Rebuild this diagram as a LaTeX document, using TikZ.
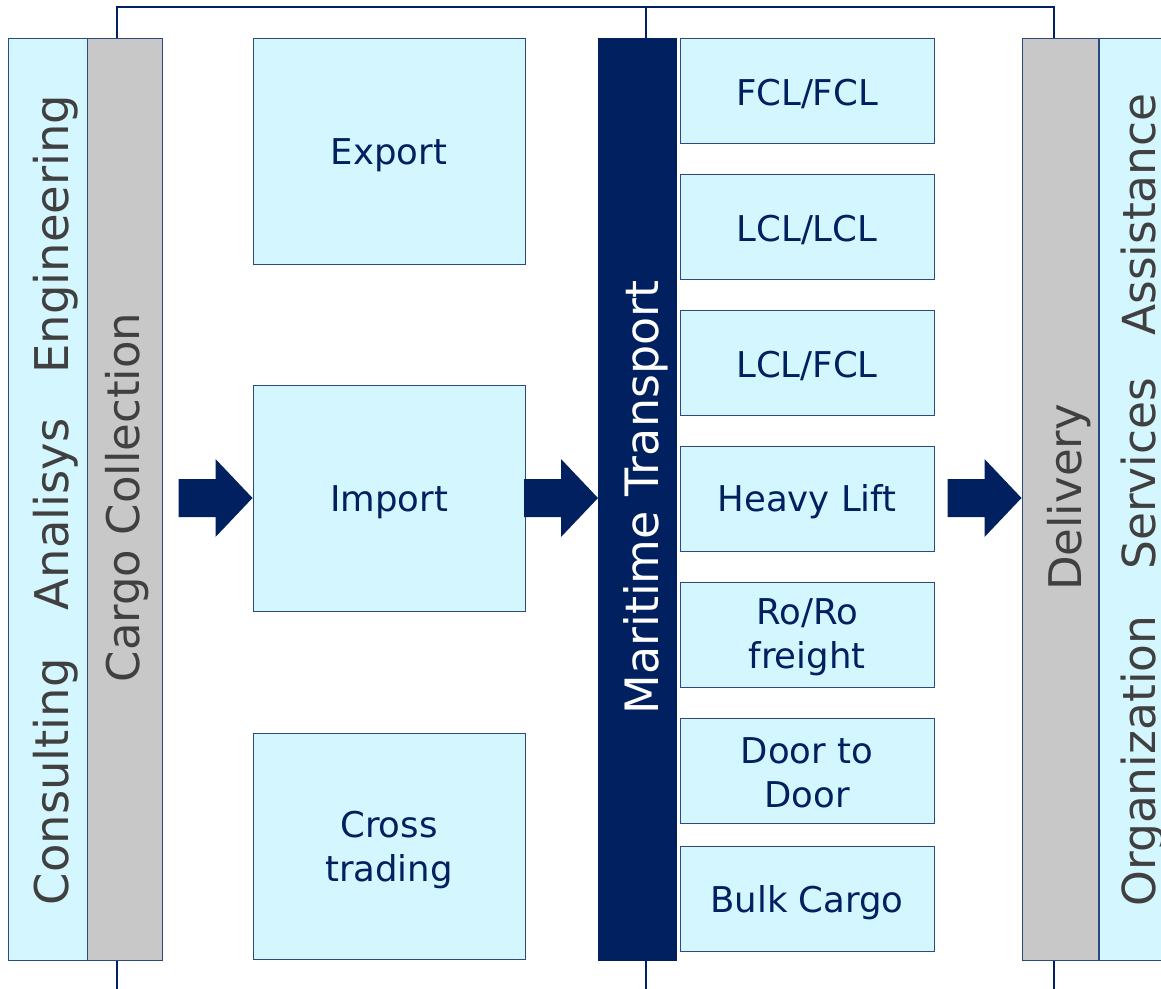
\documentclass[tikz,border=0pt]{standalone}
\usepackage{fontspec}
\setmainfont{DejaVu Sans}
\usetikzlibrary{calc}
\definecolor{navy}{HTML}{002060}
\definecolor{cyanfill}{HTML}{D4F6FE}
\definecolor{bargray}{HTML}{C8C8C8}
\definecolor{txtgray}{HTML}{404040}
\definecolor{edge}{HTML}{2A4A80}
\tikzset{
  x=1pt, y=-1pt,
  bluebox/.style={draw=edge, line width=1pt, fill=cyanfill, inner sep=0pt},
  btext/.style={inner sep=0pt, text=navy, align=center, font=\fontsize{35.5}{44}\selectfont},
  graybar/.style={draw=edge, line width=1pt, fill=bargray, inner sep=0pt},
  navybar/.style={draw=navy, line width=1pt, fill=navy, inner sep=0pt},
  vtext/.style={rotate=90, anchor=base, inner sep=0pt, font=\fontsize{46}{50}\selectfont, text=txtgray},
  conn/.style={draw=navy, line width=2.2pt},
  fatarrow/.pic={\fill[navy] (0,0) -- ++(-37,-39) -- ++(0,20) -- ++(-37,0) -- ++(0,38) -- ++(37,0) -- ++(0,20) -- cycle;}
}
\begin{document}
\begin{tikzpicture}
\useasboundingbox (0,0) rectangle (1161,988);
% connectors (drawn first)
\coordinate (cT) at (117,38);
\coordinate (mT) at (646,38);
\coordinate (dT) at (1054,38);
\coordinate (cB) at (117,960);
\coordinate (mB) at (646,960);
\coordinate (dB) at (1054,960);
\coordinate (top) at (0,7);
\coordinate (bot) at (0,995);
\draw[conn] (cT) -- (cT |- top) -- (dT |- top) -- (dT);
\draw[conn] (mT) -- (mT |- top);
\draw[conn] (cB) -- (cB |- bot);
\draw[conn] (mB) -- (mB |- bot);
\draw[conn] (dB) -- (dB |- bot);
% left columns
\node[bluebox, minimum width=79pt, minimum height=922pt] (cons) at (47.5,499) {};
\node[graybar, minimum width=75pt, minimum height=922pt] (cc) at (124.5,499) {};
\node[vtext, font=\fontsize{46.5}{50}\selectfont] (consT) at (68,500) {Consulting\hspace{48pt}Analisys\hspace{45pt}Engineering};
\node[vtext, font=\fontsize{45}{50}\selectfont] (ccT) at (139,497.5) {Cargo Collection};
% middle boxes
\node[bluebox, minimum width=272pt, minimum height=226pt] (exp) at (389,151) {};
\node[bluebox, minimum width=272pt, minimum height=226pt] (imp) at (389,498) {};
\node[bluebox, minimum width=272pt, minimum height=226pt] (cross) at (389,846) {};
\node[btext] (expT) at ([yshift=-4pt]exp.center) {Export};
\node[btext] (impT) at ([yshift=-4pt]imp.center) {Import};
\node[btext] (crossT) at ([yshift=-4pt]cross.center) {Cross\\trading};
% maritime bar
\node[navybar, minimum width=78pt, minimum height=922pt] (mt) at (637.5,499) {};
\node[vtext, text=white] (mtT) at (658,497.5) {Maritime Transport};
% right boxes
\node[bluebox, minimum width=254pt, minimum height=105pt] (b1) at (807,90.5) {};
\node[bluebox, minimum width=254pt, minimum height=105pt] (b2) at (807,226.5) {};
\node[bluebox, minimum width=254pt, minimum height=105pt] (b3) at (807,362.5) {};
\node[bluebox, minimum width=254pt, minimum height=105pt] (b4) at (807,498.5) {};
\node[bluebox, minimum width=254pt, minimum height=105pt] (b5) at (807,634.5) {};
\node[bluebox, minimum width=254pt, minimum height=105pt] (b6) at (807,770.5) {};
\node[bluebox, minimum width=254pt, minimum height=105pt] (b7) at (807,899) {};
\node[btext] (b1T) at ([yshift=-3pt]b1.center) {FCL/FCL};
\node[btext] (b2T) at ([yshift=-3pt]b2.center) {LCL/LCL};
\node[btext] (b3T) at ([yshift=-3pt]b3.center) {LCL/FCL};
\node[btext] (b4T) at ([yshift=-3pt]b4.center) {Heavy Lift};
\node[btext] (b5T) at ([yshift=-3pt]b5.center) {Ro/Ro\\freight};
\node[btext] (b6T) at ([yshift=-2pt]b6.center) {Door to\\Door};
\node[btext] (b7T) at ([yshift=-4pt]b7.center) {Bulk Cargo};
% right columns
\node[graybar, minimum width=76pt, minimum height=922pt] (del) at (1060,499) {};
\node[bluebox, minimum width=75pt, minimum height=922pt] (org) at (1136.5,499) {};
\node[vtext, font=\fontsize{45}{50}\selectfont] (delT) at (1081,497.5) {Delivery};
\node[vtext, font=\fontsize{45.5}{50}\selectfont] (orgT) at (1155,500) {Organization\hspace{46pt}Services\hspace{42pt}Assistance};
% arrows
\pic at (imp.west) {fatarrow};
\pic at (mt.west |- imp.west) {fatarrow};
\pic at (del.west |- imp.west) {fatarrow};
\end{tikzpicture}
\end{document}
